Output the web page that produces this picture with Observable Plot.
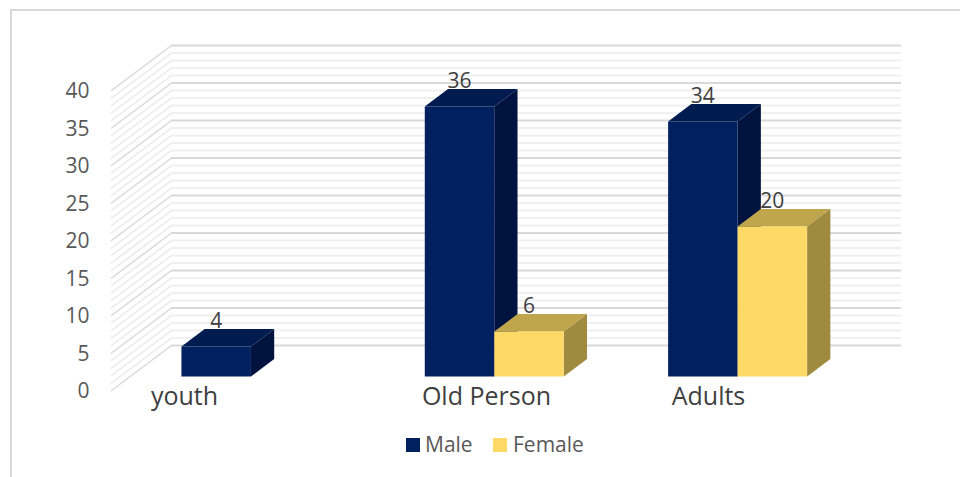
<!DOCTYPE html>
<html><head><meta charset="utf-8">
<script src="https://cdn.jsdelivr.net/npm/d3@7"></script>
<script src="https://cdn.jsdelivr.net/npm/@observablehq/plot@0.6"></script>
<style>
html,body{margin:0;padding:0;background:#fff;overflow:hidden}
#page{position:relative;width:960px;height:477px;font-family:"Open Sans",sans-serif}
#frame{position:absolute;left:10px;top:9px;right:-5px;bottom:-5px;border:2px solid #d9d9d9;box-sizing:border-box}
#chart{position:absolute;left:0;top:0}
#legend{position:absolute;left:0;top:431px;width:960px;height:26px;font-size:21px;line-height:26px;color:#595959}
#legend span{position:absolute;top:0}
#legend i{position:absolute;top:7px;width:14px;height:14px}
</style></head><body>
<div id="page"><div id="frame"></div><div id="chart"></div>
<div id="legend"></div></div>
<script>
const categories = ["youth", "Old Person", "Adults"];
const male = [4, 36, 34];
const female = [null, 6, 20];
const yTicks = [0, 5, 10, 15, 20, 25, 30, 35, 40];
const minorTicks = [0,1,2,3,4,5,6,7,8,9,10,11,12,13,14,15,16,17,18,19,20,21,22,23,24,25,26,27,28,29,30,31,32,33,34,35,36,37,38,39,40];

// Oblique projection: depth 0 = front plane, depth 1 = back wall
const DX = 60 / 243.33, DY = 6;
const D0 = 0.3125, D1 = 0.7, HALF = 0.2856, NUDGE = -0.004;
const P = (x, v, d) => ({x: x + d * DX, y: v + d * DY});

function barFaces(i, v, side) {
  const c = i + NUDGE;
  const a = side === 0 ? c - HALF : c, b = side === 0 ? c : c + HALF;
  return {
    front: [P(a,0,D0),P(b,0,D0),P(b,v,D0),P(a,v,D0)],
    top: [P(a,v,D0),P(b,v,D0),P(b,v,D1),P(a,v,D1)],
    right: [P(b,0,D0),P(b,0,D1),P(b,v,D1),P(b,v,D0)]
  };
}
const colors = [
  {front:"#002060", top:"#001b50", right:"#00133f"},
  {front:"#ffd966", top:"#bfa64d", right:"#a08a40"}
];
const barMarks = [];
[male, female].forEach((s, side) => s.forEach((v, i) => {
  if (v == null) return;
  const f = barFaces(i, v, side);
  for (const k of ["top","right","front"])
    barMarks.push(Plot.line(f[k], {x:"x", y:"y", fill:colors[side][k], stroke:null, curve:"linear"}));
}));
const labels = [];
[male, female].forEach((s, side) => s.forEach((v, i) => {
  if (v == null) return;
  const c = i + NUDGE + (side === 0 ? -HALF/2 : HALF/2);
  labels.push({...P(c, v, D0), t: String(v)});
}));
const catShift = [-0.2, 0.041, -0.0466];
const wallLine = (v) => [P(-0.5, v, 0), P(-0.5, v, 1)];
const minorDiag = minorTicks.filter(v => v % 5).flatMap(v => wallLine(v).map(p => ({...p, z:v})));
const majorDiag = yTicks.flatMap(v => wallLine(v).map(p => ({...p, z:v})));

const plot = Plot.plot({
  width: 960, height: 425,
  marginLeft: 111, marginRight: 119, marginTop: 90, marginBottom: 35,
  x: {domain: [-0.5, 2.5]},
  y: {domain: [0, 40]},
  style: {fontFamily: '"Open Sans",sans-serif', background: "transparent", overflow: "visible"},
  marks: [
    Plot.line(minorDiag, {x:"x", y:"y", z:"z", stroke:"#e9e9e9", strokeWidth:1.5}),
    Plot.ruleY(minorTicks.filter(v => v % 5), {y: v => v + DY, x1: -0.5 + DX, x2: 2.5 + DX, stroke:"#f0f0f0", strokeWidth:2}),
    Plot.line(majorDiag, {x:"x", y:"y", z:"z", stroke:"#d9d9d9", strokeWidth:1.5}),
    Plot.ruleY(yTicks, {y: v => v + DY, x1: -0.5 + DX, x2: 2.5 + DX, stroke:"#d9d9d9", strokeWidth:2}),
    ...barMarks,
    Plot.text(labels, {x:"x", y:"y", text:"t", dy:-25, fontSize:21, fill:"#404040"}),
    Plot.text(categories, {x:(d,i)=>i+catShift[i], y:()=>-0.8, text:d=>d, fontSize:25, fill:"#404040"}),
    Plot.axisY({ticks:yTicks, tickSize:0, tickPadding:22, fontSize:21, label:null, color:"#595959", dy:1}),
    Plot.axisX({ticks:[], label:null})
  ]
});
document.getElementById("chart").appendChild(plot);

const legendItems = [["Male","#002060",406,425],["Female","#ffd966",493,513]];
const lg = document.getElementById("legend");
for (const [t,c,sx,tx] of legendItems) {
  const i = document.createElement("i"); i.style.left = sx+"px"; i.style.background = c; lg.appendChild(i);
  const s = document.createElement("span"); s.style.left = tx+"px"; s.textContent = t; lg.appendChild(s);
}
</script></body></html>
